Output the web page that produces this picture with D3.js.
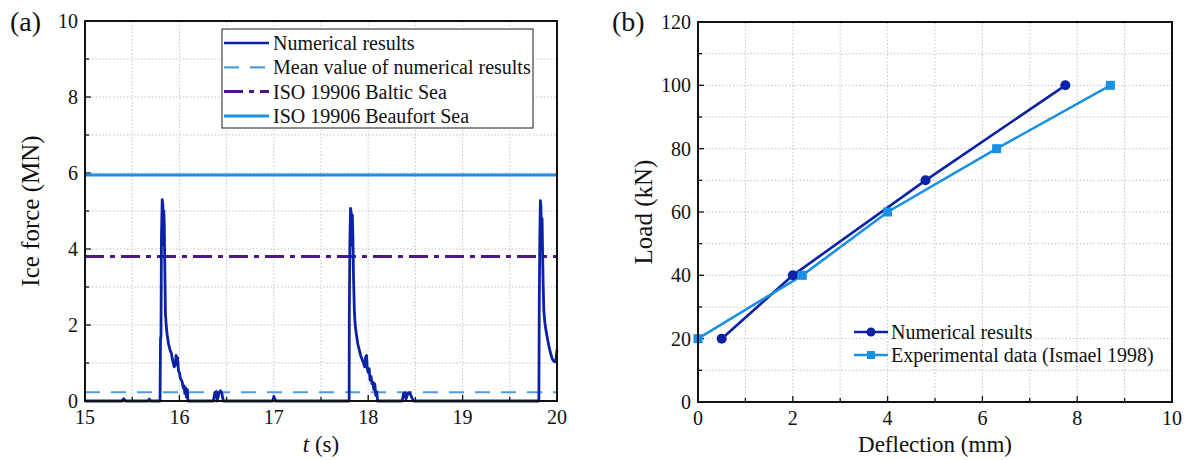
<!DOCTYPE html>
<html>
<head>
<meta charset="utf-8">
<title>Ice force and load-deflection</title>
<script src="https://d3js.org/d3.v7.min.js"></script>
<style>
  body { margin: 0; background: #fff; }
  svg text { font-family: "Liberation Serif", "Times New Roman", serif; fill: #111; }
</style>
</head>
<body>
<svg id="chart" width="1189" height="460"></svg>
<script>
// ---- panel (a): ice force time history ----
const forceT = [15.0, 15.39, 15.41, 15.43, 15.67, 15.68, 15.69,
  15.795, 15.80, 15.805, 15.81, 15.818, 15.825, 15.83, 15.835, 15.84, 15.846, 15.852, 15.86, 15.87,
  15.885, 15.9, 15.915, 15.93, 15.945, 15.955, 15.965, 15.972, 15.98, 15.99, 16.0, 16.01, 16.02, 16.03,
  16.04, 16.05, 16.057, 16.065, 16.075, 16.085, 16.09,
  16.36, 16.375, 16.39, 16.40, 16.42, 16.435, 16.45, 16.465,
  16.99, 17.0, 17.02,
  17.798, 17.80, 17.806, 17.813, 17.82, 17.826, 17.832, 17.838, 17.845, 17.853, 17.862, 17.875, 17.89,
  17.905, 17.92, 17.935, 17.95, 17.962, 17.972, 17.982, 17.99, 18.0, 18.01, 18.02, 18.03, 18.04, 18.05,
  18.06, 18.07, 18.08, 18.09, 18.1,
  18.36, 18.375, 18.39, 18.40, 18.42, 18.44, 18.46, 18.48,
  19.808, 19.812, 19.818, 19.824, 19.83, 19.836, 19.842, 19.848, 19.854, 19.86, 19.872, 19.887, 19.902,
  19.918, 19.933, 19.948, 19.963, 19.978, 19.99, 20.0];
const forceV = [0, 0, 0.06, 0, 0, 0.05, 0,
  0, 1.65, 1.7, 4.3, 5.3, 5.15, 4.1, 5.0, 4.6, 3.4, 2.3, 2.0, 1.75,
  1.5, 1.35, 1.25, 1.05, 0.9, 0.95, 1.2, 0.95, 1.15, 0.8, 0.75, 0.6, 0.55, 0.5,
  0.35, 0.4, 0.2, 0.35, 0.1, 0.3, 0,
  0, 0.22, 0.25, 0, 0.22, 0.27, 0.2, 0,
  0, 0.12, 0,
  0, 2.3, 4.2, 5.07, 4.95, 4.1, 4.9, 4.3, 3.2, 2.4, 2.0, 1.75, 1.5,
  1.35, 1.2, 1.1, 1.0, 0.9, 1.15, 1.2, 0.85, 0.75, 0.85, 0.55, 0.65, 0.45, 0.5,
  0.3, 0.45, 0.15, 0.25, 0,
  0, 0.2, 0.22, 0.05, 0.2, 0.22, 0.1, 0,
  0, 2.5, 4.3, 5.27, 5.1, 4.2, 4.8, 3.8, 3.0, 2.4, 2.05, 1.8, 1.6,
  1.4, 1.25, 1.12, 1.05, 1.03, 1.1, 1.35];
const meanForce = 0.23;
const balticForce = 3.8;
const beaufortForce = 5.95;
const legendA = ["Numerical results", "Mean value of numerical results", "ISO 19906 Baltic Sea", "ISO 19906 Beaufort Sea"];

// ---- panel (b): load vs deflection ----
const numDefl = [0.5, 2, 4.8, 7.75];
const numLoad = [20, 40, 70, 100];
const expDefl = [0, 2.2, 4, 6.3, 8.7];
const expLoad = [20, 40, 60, 80, 100];
const legendB = ["Numerical results", "Experimental data (Ismael 1998)"];

const darkBlue = "#0c22a4", lightBlue = "#1a8fe6", meanBlue = "#4d9fd6", purple = "#4e1688";

const svg = d3.select("#chart");

function frame(g, x, y, xMinor, yMinor, xMajor, yMajor) {
  const [x0, x1] = x.range(), [y0, y1] = y.range();
  // dotted grid
  g.append("g").selectAll("line").data(xMinor.filter(v => v > x.domain()[0] && v < x.domain()[1]))
    .join("line").attr("x1", d => x(d)).attr("x2", d => x(d)).attr("y1", y0).attr("y2", y1)
    .attr("stroke", "#c4c4c4").attr("stroke-width", 1).attr("stroke-dasharray", "1.5,2");
  g.append("g").selectAll("line").data(yMinor.filter(v => v > y.domain()[0] && v < y.domain()[1]))
    .join("line").attr("y1", d => y(d)).attr("y2", d => y(d)).attr("x1", x0).attr("x2", x1)
    .attr("stroke", "#c4c4c4").attr("stroke-width", 1).attr("stroke-dasharray", "1.5,2");
  // inward ticks
  g.append("g").selectAll("line").data(xMinor).join("line")
    .attr("x1", d => x(d)).attr("x2", d => x(d)).attr("y1", y0)
    .attr("y2", d => y0 - (xMajor.includes(d) ? 6 : 4))
    .attr("stroke", "#111").attr("stroke-width", 1.3);
  g.append("g").selectAll("line").data(yMinor).join("line")
    .attr("y1", d => y(d)).attr("y2", d => y(d)).attr("x1", x0)
    .attr("x2", d => x0 + (yMajor.includes(d) ? 6 : 4))
    .attr("stroke", "#111").attr("stroke-width", 1.3);
  // tick labels
  g.append("g").selectAll("text").data(xMajor).join("text")
    .attr("x", d => x(d)).attr("y", y0 + 23).attr("text-anchor", "middle")
    .attr("font-size", 20).text(d => d);
  g.append("g").selectAll("text").data(yMajor).join("text")
    .attr("x", x0 - 7).attr("y", d => y(d) + 7).attr("text-anchor", "end")
    .attr("font-size", 20).text(d => d);
}

function box(g, x, y) {
  const [x0, x1] = x.range(), [y0, y1] = y.range();
  g.append("rect").attr("x", x0).attr("y", y1).attr("width", x1 - x0).attr("height", y0 - y1)
    .attr("fill", "none").attr("stroke", "#111").attr("stroke-width", 2);
}

// ================= panel (a) =================
{
  const x = d3.scaleLinear().domain([15, 20]).range([85, 557]);
  const y = d3.scaleLinear().domain([0, 10]).range([401, 21]);
  const g = svg.append("g");
  frame(g, x, y, d3.range(15, 20.01, 0.5).map(v => +v.toFixed(1)), d3.range(0, 10.01, 1),
    [15, 16, 17, 18, 19, 20], [0, 2, 4, 6, 8, 10]);

  const hline = (v, color, w, dash) => g.append("line")
    .attr("x1", x(15)).attr("x2", x(20)).attr("y1", y(v)).attr("y2", y(v))
    .attr("stroke", color).attr("stroke-width", w).attr("stroke-dasharray", dash);
  hline(meanForce, meanBlue, 2.2, "15,11");
  hline(balticForce, purple, 3, "19,6,5,6");
  hline(beaufortForce, lightBlue, 3, null);

  const line = d3.line().x(d => x(d[0])).y(d => y(d[1]));
  g.append("path").datum(d3.zip(forceT, forceV)).attr("d", line)
    .attr("fill", "none").attr("stroke", darkBlue).attr("stroke-width", 2.8).attr("stroke-linejoin", "round");

  box(g, x, y);

  // legend
  const lg = g.append("g");
  lg.append("rect").attr("x", 222).attr("y", 29).attr("width", 311).attr("height", 99)
    .attr("fill", "#fff").attr("stroke", "#444").attr("stroke-width", 1.2);
  const styles = [[darkBlue, 2.6, null], [meanBlue, 2.2, "15,11"], [purple, 3, "19,6,5,6"], [lightBlue, 3, null]];
  legendA.forEach((t, i) => {
    const cy = 43 + i * 24.3;
    lg.append("line").attr("x1", 224).attr("x2", 269).attr("y1", cy).attr("y2", cy)
      .attr("stroke", styles[i][0]).attr("stroke-width", styles[i][1]).attr("stroke-dasharray", styles[i][2]);
    lg.append("text").attr("x", 273).attr("y", cy + 7).attr("font-size", 20).text(t);
  });

  g.append("text").attr("x", 10).attr("y", 31).attr("font-size", 28).text("(a)");
  g.append("text").attr("transform", `translate(39,${(21 + 401) / 2}) rotate(-90)`)
    .attr("text-anchor", "middle").attr("font-size", 25).text("Ice force (MN)");
  const xt = g.append("text").attr("x", x(17.5)).attr("y", 452).attr("text-anchor", "middle").attr("font-size", 23);
  xt.append("tspan").attr("font-style", "italic").text("t");
  xt.append("tspan").text(" (s)");
}

// ================= panel (b) =================
{
  const x = d3.scaleLinear().domain([0, 10]).range([698, 1172]);
  const y = d3.scaleLinear().domain([0, 120]).range([402, 22]);
  const g = svg.append("g");
  frame(g, x, y, d3.range(0, 10.01, 1), d3.range(0, 120.01, 10),
    [0, 2, 4, 6, 8, 10], [0, 20, 40, 60, 80, 100, 120]);

  const line = d3.line().x(d => x(d[0])).y(d => y(d[1]));
  const num = d3.zip(numDefl, numLoad), exp = d3.zip(expDefl, expLoad);
  g.append("path").datum(num).attr("d", line).attr("fill", "none").attr("stroke", darkBlue).attr("stroke-width", 2.6);
  g.append("path").datum(exp).attr("d", line).attr("fill", "none").attr("stroke", lightBlue).attr("stroke-width", 2.6);
  g.append("g").selectAll("circle").data(num).join("circle")
    .attr("cx", d => x(d[0])).attr("cy", d => y(d[1])).attr("r", 5).attr("fill", darkBlue);
  g.append("g").selectAll("rect").data(exp).join("rect")
    .attr("x", d => x(d[0]) - 4.5).attr("y", d => y(d[1]) - 4.5).attr("width", 9).attr("height", 9).attr("fill", lightBlue);

  box(g, x, y);

  const colors = [darkBlue, lightBlue];
  legendB.forEach((t, i) => {
    const cy = 332 + i * 23;
    g.append("line").attr("x1", 854).attr("x2", 888).attr("y1", cy).attr("y2", cy)
      .attr("stroke", colors[i]).attr("stroke-width", 2.6);
    if (i === 0) g.append("circle").attr("cx", 871).attr("cy", cy).attr("r", 4.5).attr("fill", colors[i]);
    else g.append("rect").attr("x", 867).attr("y", cy - 4).attr("width", 8).attr("height", 8).attr("fill", colors[i]);
    g.append("text").attr("x", 891).attr("y", cy + 7).attr("font-size", 20).text(t);
  });

  g.append("text").attr("x", 612).attr("y", 31).attr("font-size", 28).text("(b)");
  g.append("text").attr("transform", `translate(652,${(22 + 402) / 2}) rotate(-90)`)
    .attr("text-anchor", "middle").attr("font-size", 25).text("Load (kN)");
  g.append("text").attr("x", x(5)).attr("y", 452).attr("text-anchor", "middle").attr("font-size", 23).text("Deflection (mm)");
}
</script>
</body>
</html>
